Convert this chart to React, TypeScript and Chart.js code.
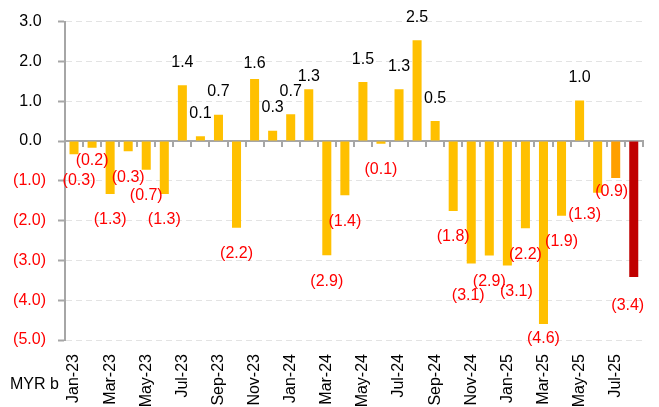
import React, { useEffect, useRef } from "react";
import { Chart, registerables } from "chart.js";

Chart.register(...registerables);

const categories = [
  "Jan-23", "Feb-23", "Mar-23", "Apr-23", "May-23", "Jun-23", "Jul-23", "Aug-23",
  "Sep-23", "Oct-23", "Nov-23", "Dec-23", "Jan-24", "Feb-24", "Mar-24", "Apr-24",
  "May-24", "Jun-24", "Jul-24", "Aug-24", "Sep-24", "Oct-24", "Nov-24", "Dec-24",
  "Jan-25", "Feb-25", "Mar-25", "Apr-25", "May-25", "Jun-25", "Jul-25", "Aug-25",
];

const values = [
  -0.33, -0.17, -1.33, -0.26, -0.72, -1.33, 1.4, 0.12,
  0.66, -2.18, 1.56, 0.26, 0.67, 1.3, -2.87, -1.36,
  1.48, -0.07, 1.3, 2.53, 0.5, -1.76, -3.08, -2.88,
  -3.13, -2.19, -4.6, -1.88, 1.02, -1.3, -0.93, -3.42,
];

const yMin = -5;
const yMax = 3;
const unitLabel = "MYR b";

const BASE_COLOR = "#FFC000";
const specialColors: Record<string, string> = {
  "Jul-25": "#FF9F00",
  "Aug-25": "#C00000",
};

// label nudges [dx, dy] relative to the default outside-end placement
const labelNudge: Record<string, [number, number]> = {
  "Jan-23": [5, 0],
  "Feb-23": [0, -13],
  "Nov-23": [0, 8],
  "Feb-24": [0, 10],
  "Nov-24": [-3, 6],
  "Jan-25": [9, 0],
  "Mar-25": [0, -11],
  "Jun-25": [-13, -4],
  "Jul-25": [-4, -12],
  "Aug-25": [-6, 2],
};

const FONT = "'Liberation Sans', Arial, sans-serif";
const AXIS_GRAY = "#A6A6A6";

const fmt = (v: number) =>
  v < 0 ? `(${Math.abs(v).toFixed(1)})` : `${v.toFixed(1)}`;

const dataLabelPlugin = {
  id: "dataLabels",
  afterDatasetsDraw(chart: any) {
    const ctx = chart.ctx;
    const meta = chart.getDatasetMeta(0);
    ctx.save();
    ctx.font = `16px ${FONT}`;
    ctx.textAlign = "center";
    ctx.textBaseline = "middle";
    meta.data.forEach((bar: any, i: number) => {
      const v = values[i];
      const nudge = labelNudge[categories[i]] || [0, 0];
      const y = v < 0 ? bar.y + 26 : bar.y - 23;
      ctx.fillStyle = v < 0 ? "#FF0000" : "#000000";
      ctx.fillText(fmt(v), bar.x + nudge[0], y + nudge[1]);
    });
    ctx.restore();
  },
};

const unitPlugin = {
  id: "unitLabel",
  afterDraw(chart: any) {
    const ctx = chart.ctx;
    const area = chart.chartArea;
    ctx.save();
    ctx.font = `16px ${FONT}`;
    ctx.fillStyle = "#000000";
    ctx.textAlign = "left";
    ctx.textBaseline = "middle";
    ctx.fillText(unitLabel, area.left - 55, area.bottom + 45);
    ctx.restore();
  },
};

export default function App() {
  const canvasRef = useRef<HTMLCanvasElement | null>(null);

  useEffect(() => {
    if (!canvasRef.current) return;
    Chart.defaults.font.family = FONT;
    const chart = new Chart(canvasRef.current, {
      type: "bar",
      data: {
        labels: categories,
        datasets: [
          {
            data: values,
            backgroundColor: categories.map((c) => specialColors[c] || BASE_COLOR),
            barPercentage: 0.5,
            categoryPercentage: 1,
            borderWidth: 0,
          },
        ],
      },
      options: {
        animation: false,
        responsive: true,
        maintainAspectRatio: false,
        layout: { padding: { top: 20, right: 3, bottom: 0, left: 0 } },
        plugins: {
          legend: { display: false },
          tooltip: { enabled: false },
        },
        scales: {
          x: {
            type: "category",
            offset: true,
            grid: { display: false },
            border: { display: false },
            ticks: {
              autoSkip: false,
              maxRotation: 90,
              minRotation: 90,
              padding: 6,
              color: "#000000",
              font: { size: 16, family: FONT },
              callback: (_v: any, i: number) => (i % 2 === 0 ? categories[i] : ""),
            },
            afterFit: (scale: any) => {
              scale.height = 67;
            },
          },
          x2: {
            type: "category",
            position: { y: 0 } as any,
            offset: true,
            grid: {
              display: true,
              offset: true,
              drawOnChartArea: false,
              drawTicks: true,
              tickLength: 5,
              color: AXIS_GRAY,
              lineWidth: 2,
            },
            border: { display: true, color: AXIS_GRAY, width: 2 },
            ticks: { display: false, autoSkip: false },
          },
          y: {
            min: yMin,
            max: yMax,
            ticks: {
              stepSize: 1,
              padding: 12,
              font: { size: 16, family: FONT },
              color: (c: any) => (c.tick && c.tick.value < 0 ? "#FF0000" : "#000000"),
              callback: (v: any) => (Number(v) < 0 ? fmt(Number(v)) : `${fmt(Number(v))} `),
            },
            grid: {
              color: "#E3E3E3",
              lineWidth: 1,
              tickLength: 7,
              tickColor: AXIS_GRAY,
              tickWidth: 2,
              tickBorderDash: [],
            } as any,
            border: { display: true, color: AXIS_GRAY, width: 2, dash: [6, 4] },
            afterFit: (scale: any) => {
              scale.width = 65;
            },
          },
        },
      },
      plugins: [dataLabelPlugin, unitPlugin],
    });
    return () => chart.destroy();
  }, []);

  return (
    <div style={{ position: "absolute", left: 0, top: 0, width: 659, height: 407, background: "#fff" }}>
      <canvas ref={canvasRef} />
    </div>
  );
}
